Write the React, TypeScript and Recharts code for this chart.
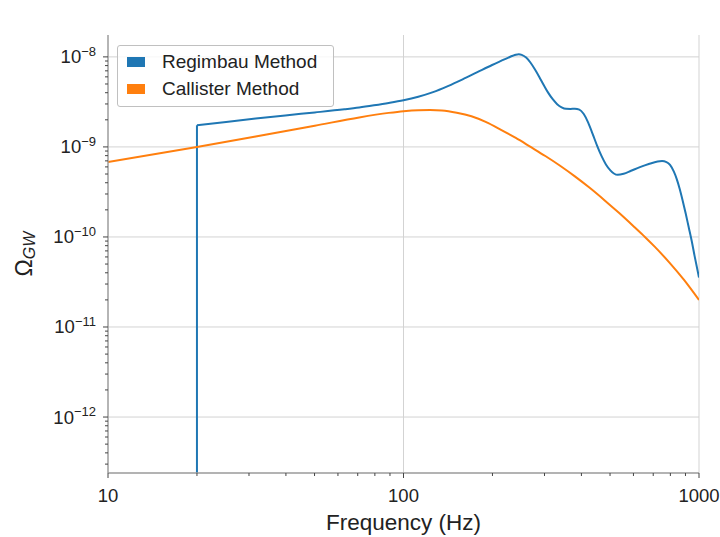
import React from 'react';
import { LineChart, Line, XAxis, YAxis, CartesianGrid, Legend } from 'recharts';

// ---- data ----
const regimbauFreq = [20, 25.1, 31.6, 39.8, 50.1, 63.1, 70.8, 79.4, 89.1, 100, 112.2, 125.9, 141.3, 158.5, 177.8, 199.5, 213.8, 226.5, 234.4, 239.9, 245.5, 251.2, 260.0, 269.2, 278.6, 288.4, 298.5, 309.0, 319.9, 331.1, 342.8, 354.8, 367.3, 380.2, 393.6, 407.4, 421.7, 436.5, 451.9, 467.7, 484.2, 501.2, 515.2, 530.9, 555.9, 588.8, 631.0, 676.1, 724.4, 749.9, 776.2, 798.0, 822.2, 841.4, 861.0, 881.0, 901.6, 922.6, 944.1, 966.1, 1000];
const regimbauOmega = [1.738e-9, 1.897e-9, 2.065e-9, 2.239e-9, 2.415e-9, 2.618e-9, 2.742e-9, 2.897e-9, 3.076e-9, 3.296e-9, 3.606e-9, 4.055e-9, 4.732e-9, 5.623e-9, 6.761e-9, 8.128e-9, 9.016e-9, 9.817e-9, 1.028e-8, 1.054e-8, 1.067e-8, 1.052e-8, 9.817e-9, 8.61e-9, 7.244e-9, 5.957e-9, 4.842e-9, 3.981e-9, 3.388e-9, 2.985e-9, 2.754e-9, 2.649e-9, 2.642e-9, 2.661e-9, 2.6e-9, 2.317e-9, 1.862e-9, 1.396e-9, 1.035e-9, 7.943e-10, 6.383e-10, 5.495e-10, 5.07e-10, 4.898e-10, 5.035e-10, 5.433e-10, 5.957e-10, 6.457e-10, 6.887e-10, 6.966e-10, 6.792e-10, 6.31e-10, 5.309e-10, 4.365e-10, 3.388e-10, 2.512e-10, 1.82e-10, 1.288e-10, 9.12e-11, 6.166e-11, 3.548e-11];
// the Regimbau spectrum switches on at 20 Hz (drops off the bottom of the plot)
const regimbauStepFreq = [20, 20];
const regimbauStepOmega = [1e-14, 1.738e-9];

const callisterFreq = [10, 20, 31.6, 50.1, 70.8, 89.1, 100, 112.2, 123, 134.9, 151.4, 169.8, 190.5, 213.8, 239.9, 269.2, 302.0, 338.8, 380.2, 426.6, 478.6, 537.0, 602.6, 656.1, 707.9, 794.3, 891.3, 1000];
const callisterOmega = [6.808e-10, 1.0e-9, 1.303e-9, 1.718e-9, 2.128e-9, 2.388e-9, 2.495e-9, 2.559e-9, 2.57e-9, 2.541e-9, 2.399e-9, 2.188e-9, 1.884e-9, 1.549e-9, 1.259e-9, 1.0e-9, 7.925e-10, 6.18e-10, 4.71e-10, 3.516e-10, 2.564e-10, 1.841e-10, 1.3e-10, 1.0e-10, 7.8e-11, 5.19e-11, 3.311e-11, 1.995e-11];

const seriesNames = ['Regimbau Method', 'Callister Method'];
const seriesColors = ['#1f77b4', '#ff7f0e'];

const xDomain = [10, 1000];
const yDomain = [2.39e-13, 1.75e-8];
const xMajor = [10, 100, 1000];
const yMajor = [1e-12, 1e-11, 1e-10, 1e-9, 1e-8];
const minorMultipliers = [2, 3, 4, 5, 6, 7, 8, 9];
const xDecades = [10, 100];
const yDecades = [1e-13, 1e-12, 1e-11, 1e-10, 1e-9, 1e-8];

const xTicks = [...xMajor, ...xDecades.flatMap((d) => minorMultipliers.map((m) => m * d))]
  .filter((v) => v >= xDomain[0] && v <= xDomain[1]);
const yTicks = [...yMajor, ...yDecades.flatMap((d) => minorMultipliers.map((m) => m * d))]
  .filter((v) => v >= yDomain[0] && v <= yDomain[1]);

const toRows = (fs: number[], vs: number[]) => fs.map((f, i) => ({ f, v: vs[i] }));
const regimbauData = toRows(regimbauFreq, regimbauOmega);
const regimbauStep = toRows(regimbauStepFreq, regimbauStepOmega);
const callisterData = toRows(callisterFreq, callisterOmega);

const FONT = '"Liberation Sans", Arial, Helvetica, sans-serif';
const TICK_COLOR = '#444';
const FRAME = '#9a9a9a';

const isMajorLog = (v: number) => {
  const l = Math.log10(v);
  return Math.abs(l - Math.round(l)) < 1e-6;
};

const XTick = (props: any) => {
  const { x, y, payload } = props;
  const v = payload.value;
  const major = isMajorLog(v);
  return (
    <g>
      <line x1={x} x2={x} y1={y} y2={y + (major ? 5 : 3)} stroke={TICK_COLOR} strokeWidth={1} />
      {major && (
        <text x={x} y={y + 29} textAnchor="middle" fontSize={18.5} fill="#222" fontFamily={FONT}>
          {String(v)}
        </text>
      )}
    </g>
  );
};

const YTick = (props: any) => {
  const { x, y, payload } = props;
  const v = payload.value;
  const major = isMajorLog(v);
  const e = Math.round(Math.log10(v));
  return (
    <g>
      <line x1={x} x2={x - (major ? 5 : 3)} y1={y} y2={y} stroke={TICK_COLOR} strokeWidth={1} />
      {major && (
        <text x={x - 12} y={y + 6.5} textAnchor="end" fontSize={18.5} fill="#222" fontFamily={FONT}>
          10
          <tspan dy={-7.5} fontSize={13}>{'\u2212' + String(-e)}</tspan>
        </text>
      )}
    </g>
  );
};

const LegendBox = (props: any) => {
  const payload = (props.payload || [])
    .filter((p: any) => seriesNames.includes(p.value))
    .sort((a: any, b: any) => seriesNames.indexOf(a.value) - seriesNames.indexOf(b.value));
  return (
    <div
      style={{
        width: 217,
        height: 62,
        boxSizing: 'border-box',
        border: '1px solid #c0c0c0',
        borderRadius: 3,
        background: 'rgba(255,255,255,0.8)',
        paddingTop: 2,
        fontFamily: FONT,
      }}
    >
      {payload.map((p: any) => (
        <div key={p.value} style={{ height: 27, display: 'flex', alignItems: 'center', paddingLeft: 9 }}>
          <span style={{ display: 'inline-block', width: 18, height: 10, background: p.color, marginRight: 17 }} />
          <span style={{ fontSize: 19, color: '#222', lineHeight: '27px' }}>{p.value}</span>
        </div>
      ))}
    </div>
  );
};

export default function App() {
  return (
    <div style={{ position: 'absolute', left: 0, top: 0, width: 720, height: 537, background: '#fff', fontFamily: FONT }}>
      <LineChart width={720} height={537} margin={{ top: 35, right: 21, bottom: 0, left: 0 }}>
        <CartesianGrid
          horizontalValues={yMajor}
          verticalValues={xMajor}
          stroke="#d3d3d3"
          strokeWidth={1}
        />
        <XAxis
          type="number"
          dataKey="f"
          scale="log"
          domain={xDomain}
          allowDataOverflow
          ticks={xTicks}
          interval={0}
          tick={<XTick />}
          tickLine={false}
          tickSize={0}
          tickMargin={0}
          height={64}
          axisLine={{ stroke: FRAME, strokeWidth: 1.3 }}
          label={{
            content: (p: any) => {
              const vb = p.viewBox;
              return (
                <text x={vb.x + vb.width / 2} y={vb.y + 57} textAnchor="middle" fontSize={22.5} fill="#222" fontFamily={FONT}>
                  Frequency (Hz)
                </text>
              );
            },
          }}
        />
        <XAxis
          xAxisId="top"
          orientation="top"
          type="number"
          dataKey="f"
          scale="log"
          domain={xDomain}
          allowDataOverflow
          height={0}
          tick={false}
          tickLine={false}
          axisLine={{ stroke: FRAME, strokeWidth: 1.3 }}
          label={{
            content: (p: any) => {
              const vb = p.viewBox;
              return (
                <text x={vb.x + vb.width / 2} y={vb.y - 10} textAnchor="middle" fontSize={22.5} fill="#222" fontFamily={FONT}>
                  Energy Density Spectrum
                </text>
              );
            },
          }}
        />
        <YAxis
          type="number"
          dataKey="v"
          scale="log"
          domain={yDomain}
          allowDataOverflow
          ticks={yTicks}
          interval={0}
          tick={<YTick />}
          tickLine={false}
          tickSize={0}
          tickMargin={0}
          width={108}
          axisLine={{ stroke: FRAME, strokeWidth: 1.3 }}
          label={{
            content: (p: any) => {
              const vb = p.viewBox;
              const cy = vb.y + vb.height / 2;
              return (
                <text
                  transform={`translate(${vb.x + 32}, ${cy}) rotate(-90)`}
                  textAnchor="middle"
                  fontSize={23}
                  fill="#222"
                  fontFamily={FONT}
                >
                  Ω
                  <tspan fontStyle="italic" fontSize={16} dy={3}>GW</tspan>
                </text>
              );
            },
          }}
        />
        <YAxis
          yAxisId="right"
          orientation="right"
          type="number"
          scale="log"
          domain={yDomain}
          allowDataOverflow
          width={0}
          tick={false}
          tickLine={false}
          axisLine={{ stroke: FRAME, strokeWidth: 1.3 }}
        />
        <Line
          data={regimbauStep}
          dataKey="v"
          type="linear"
          stroke={seriesColors[0]}
          strokeWidth={2}
          dot={false}
          activeDot={false}
          legendType="none"
          isAnimationActive={false}
        />
        <Line
          data={regimbauData}
          dataKey="v"
          name={seriesNames[0]}
          type="monotone"
          stroke={seriesColors[0]}
          strokeWidth={2}
          dot={false}
          activeDot={false}
          isAnimationActive={false}
        />
        <Line
          data={callisterData}
          dataKey="v"
          name={seriesNames[1]}
          type="monotone"
          stroke={seriesColors[1]}
          strokeWidth={2}
          dot={false}
          activeDot={false}
          isAnimationActive={false}
        />
        <Legend
          layout="vertical"
          align="center"
          verticalAlign="middle"
          content={<LegendBox />}
          wrapperStyle={{ left: 117, top: 45, width: 217, height: 62 }}
        />
      </LineChart>
    </div>
  );
}
